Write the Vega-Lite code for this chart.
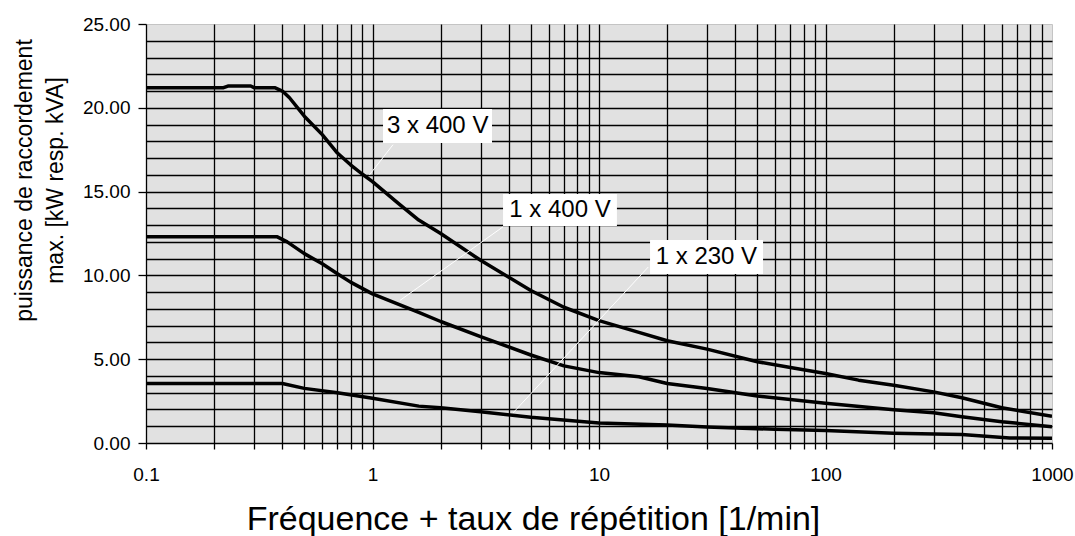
{
  "$schema": "https://vega.github.io/schema/vega-lite/v6.json",
  "width": 906,
  "height": 419,
  "autosize": {"type": "none"},
  "padding": {"left": 146, "top": 24, "right": 23, "bottom": 93},
  "background": "white",
  "config": {
    "view": {"fill": "#e1e1e1", "stroke": "#c4c4c4", "strokeWidth": 1},
    "font": "Liberation Sans"
  },
  "datasets": {
    "curves": [
      {"series": "3x400", "f": 0.1, "p": 21.2},
      {"series": "3x400", "f": 0.22, "p": 21.2},
      {"series": "3x400", "f": 0.23, "p": 21.3},
      {"series": "3x400", "f": 0.29, "p": 21.3},
      {"series": "3x400", "f": 0.3, "p": 21.2},
      {"series": "3x400", "f": 0.37, "p": 21.2},
      {"series": "3x400", "f": 0.4, "p": 21.0},
      {"series": "3x400", "f": 0.43, "p": 20.6},
      {"series": "3x400", "f": 0.5, "p": 19.5},
      {"series": "3x400", "f": 0.6, "p": 18.4},
      {"series": "3x400", "f": 0.7, "p": 17.3},
      {"series": "3x400", "f": 0.8, "p": 16.6},
      {"series": "3x400", "f": 0.9, "p": 16.05},
      {"series": "3x400", "f": 1, "p": 15.6},
      {"series": "3x400", "f": 1.3, "p": 14.3},
      {"series": "3x400", "f": 1.6, "p": 13.3},
      {"series": "3x400", "f": 2, "p": 12.5},
      {"series": "3x400", "f": 3, "p": 10.9},
      {"series": "3x400", "f": 5, "p": 9.1},
      {"series": "3x400", "f": 7, "p": 8.1},
      {"series": "3x400", "f": 10, "p": 7.3},
      {"series": "3x400", "f": 15, "p": 6.6},
      {"series": "3x400", "f": 20, "p": 6.1},
      {"series": "3x400", "f": 30, "p": 5.6},
      {"series": "3x400", "f": 50, "p": 4.85},
      {"series": "3x400", "f": 70, "p": 4.5},
      {"series": "3x400", "f": 100, "p": 4.15},
      {"series": "3x400", "f": 140, "p": 3.75},
      {"series": "3x400", "f": 200, "p": 3.45},
      {"series": "3x400", "f": 300, "p": 3.05},
      {"series": "3x400", "f": 400, "p": 2.7},
      {"series": "3x400", "f": 600, "p": 2.1},
      {"series": "3x400", "f": 1000, "p": 1.6},
      {"series": "1x400", "f": 0.1, "p": 12.3},
      {"series": "1x400", "f": 0.38, "p": 12.3},
      {"series": "1x400", "f": 0.42, "p": 12.0},
      {"series": "1x400", "f": 0.5, "p": 11.3},
      {"series": "1x400", "f": 0.6, "p": 10.7},
      {"series": "1x400", "f": 0.7, "p": 10.1},
      {"series": "1x400", "f": 0.8, "p": 9.6},
      {"series": "1x400", "f": 1, "p": 8.9},
      {"series": "1x400", "f": 1.6, "p": 7.8},
      {"series": "1x400", "f": 2, "p": 7.25},
      {"series": "1x400", "f": 3, "p": 6.35},
      {"series": "1x400", "f": 5, "p": 5.25},
      {"series": "1x400", "f": 7, "p": 4.6},
      {"series": "1x400", "f": 10, "p": 4.2},
      {"series": "1x400", "f": 15, "p": 3.95},
      {"series": "1x400", "f": 20, "p": 3.55},
      {"series": "1x400", "f": 30, "p": 3.25},
      {"series": "1x400", "f": 50, "p": 2.8},
      {"series": "1x400", "f": 100, "p": 2.37},
      {"series": "1x400", "f": 200, "p": 1.98},
      {"series": "1x400", "f": 300, "p": 1.8},
      {"series": "1x400", "f": 400, "p": 1.57},
      {"series": "1x400", "f": 600, "p": 1.27},
      {"series": "1x400", "f": 1000, "p": 0.97},
      {"series": "1x230", "f": 0.1, "p": 3.55},
      {"series": "1x230", "f": 0.4, "p": 3.55},
      {"series": "1x230", "f": 0.5, "p": 3.26},
      {"series": "1x230", "f": 0.7, "p": 3.0},
      {"series": "1x230", "f": 1, "p": 2.67},
      {"series": "1x230", "f": 1.6, "p": 2.2},
      {"series": "1x230", "f": 2, "p": 2.1},
      {"series": "1x230", "f": 3, "p": 1.87},
      {"series": "1x230", "f": 5, "p": 1.53},
      {"series": "1x230", "f": 10, "p": 1.2},
      {"series": "1x230", "f": 20, "p": 1.07},
      {"series": "1x230", "f": 30, "p": 0.95},
      {"series": "1x230", "f": 60, "p": 0.82},
      {"series": "1x230", "f": 100, "p": 0.75},
      {"series": "1x230", "f": 200, "p": 0.58},
      {"series": "1x230", "f": 400, "p": 0.5},
      {"series": "1x230", "f": 650, "p": 0.3},
      {"series": "1x230", "f": 1000, "p": 0.28}
    ],
    "leaders": [
      {"series": "3x400", "x1": 1.232, "y1": 17.8, "x2": 0.97, "y2": 16.0},
      {"series": "1x400", "x1": 3.77, "y1": 12.9, "x2": 1.32, "y2": 8.5},
      {"series": "1x230", "x1": 16.5, "y1": 10.5, "x2": 4.17, "y2": 1.79}
    ],
    "labels": [
      {"text": "3 x 400 V", "x1": 1.113, "x2": 3.37, "y1": 17.9, "y2": 19.93, "xc": 1.94, "yc": 18.9},
      {"text": "1 x 400 V", "x1": 3.77, "x2": 12.0, "y1": 12.95, "y2": 14.86, "xc": 6.73, "yc": 13.9},
      {"text": "1 x 230 V", "x1": 16.8, "x2": 53.0, "y1": 10.08, "y2": 12.11, "xc": 29.8, "yc": 11.1}
    ]
  },
  "layer": [
    {
      "data": {"name": "curves"},
      "mark": {"type": "line", "color": "black", "strokeWidth": 3.5, "strokeJoin": "round", "clip": true},
      "encoding": {
        "x": {
          "field": "f", "type": "quantitative",
          "scale": {"type": "log", "domain": [0.1, 1000], "nice": false},
          "axis": {
            "values": [0.1,0.2,0.3,0.4,0.5,0.6,0.7,0.8,0.9,1,2,3,4,5,6,7,8,9,10,20,30,40,50,60,70,80,90,100,200,300,400,500,600,700,800,900,1000],
            "tickCount": 50,
            "labelExpr": "datum.value === 0.1 || datum.value === 1 || datum.value === 10 || datum.value === 100 || datum.value === 1000 ? format(datum.value, '~g') : ''",
            "labelOverlap": false,
            "labelFlush": false,
            "labelFontSize": 19,
            "labelColor": "black",
            "labelPadding": 16,
            "tickSize": 6,
            "tickColor": "black",
            "tickWidth": 1.3,
            "domainColor": "black",
            "domainWidth": 1.3,
            "grid": true,
            "gridColor": "black",
            "gridWidth": 1.3,
            "gridOpacity": {"condition": {"test": "datum.value === 0.1 || datum.value === 1000", "value": 0}, "value": 1},
            "title": "Fréquence + taux de répétition [1/min]",
            "titleFontSize": 34,
            "titleFontWeight": "normal",
            "titleColor": "black",
            "titleBaseline": "alphabetic",
            "titleX": 387,
            "titleY": 86
          }
        },
        "y": {
          "field": "p", "type": "quantitative",
          "scale": {"domain": [0, 25], "nice": false},
          "axis": {
            "values": [0,1,2,3,4,5,6,7,8,9,10,11,12,13,14,15,16,17,18,19,20,21,22,23,24,25],
            "tickCount": 40,
            "labelExpr": "datum.value % 5 === 0 ? format(datum.value, '.2f') : ''",
            "labelOverlap": false,
            "labelFontSize": 19,
            "labelColor": "black",
            "labelPadding": 8,
            "tickSize": 8,
            "tickColor": "black",
            "tickWidth": 1.3,
            "tickOpacity": {"condition": {"test": "datum.value % 5 === 0", "value": 1}, "value": 0},
            "domainColor": "black",
            "domainWidth": 1.3,
            "grid": true,
            "gridColor": "black",
            "gridWidth": 1.3,
            "gridOpacity": {"condition": {"test": "datum.value === 0 || datum.value === 25", "value": 0}, "value": 1},
            "title": ["puissance de raccordement", "max. [kW resp. kVA]"],
            "titleFontSize": 23,
            "titleFontWeight": "normal",
            "titleColor": "black",
            "titleLineHeight": 31,
            "titleX": -110,
            "titleY": 156
          }
        },
        "detail": {"field": "series", "type": "nominal"}
      }
    },
    {
      "data": {"name": "leaders"},
      "mark": {"type": "rule", "color": "white", "strokeWidth": 1},
      "encoding": {
        "x": {"field": "x1", "type": "quantitative"},
        "y": {"field": "y1", "type": "quantitative"},
        "x2": {"field": "x2"},
        "y2": {"field": "y2"}
      }
    },
    {
      "data": {"name": "labels"},
      "mark": {"type": "rect", "fill": "white"},
      "encoding": {
        "x": {"field": "x1", "type": "quantitative"},
        "x2": {"field": "x2"},
        "y": {"field": "y1", "type": "quantitative"},
        "y2": {"field": "y2"}
      }
    },
    {
      "data": {"name": "labels"},
      "mark": {"type": "text", "color": "black", "fontSize": 24, "align": "center", "baseline": "middle"},
      "encoding": {
        "x": {"field": "xc", "type": "quantitative"},
        "y": {"field": "yc", "type": "quantitative"},
        "text": {"field": "text"}
      }
    }
  ]
}
